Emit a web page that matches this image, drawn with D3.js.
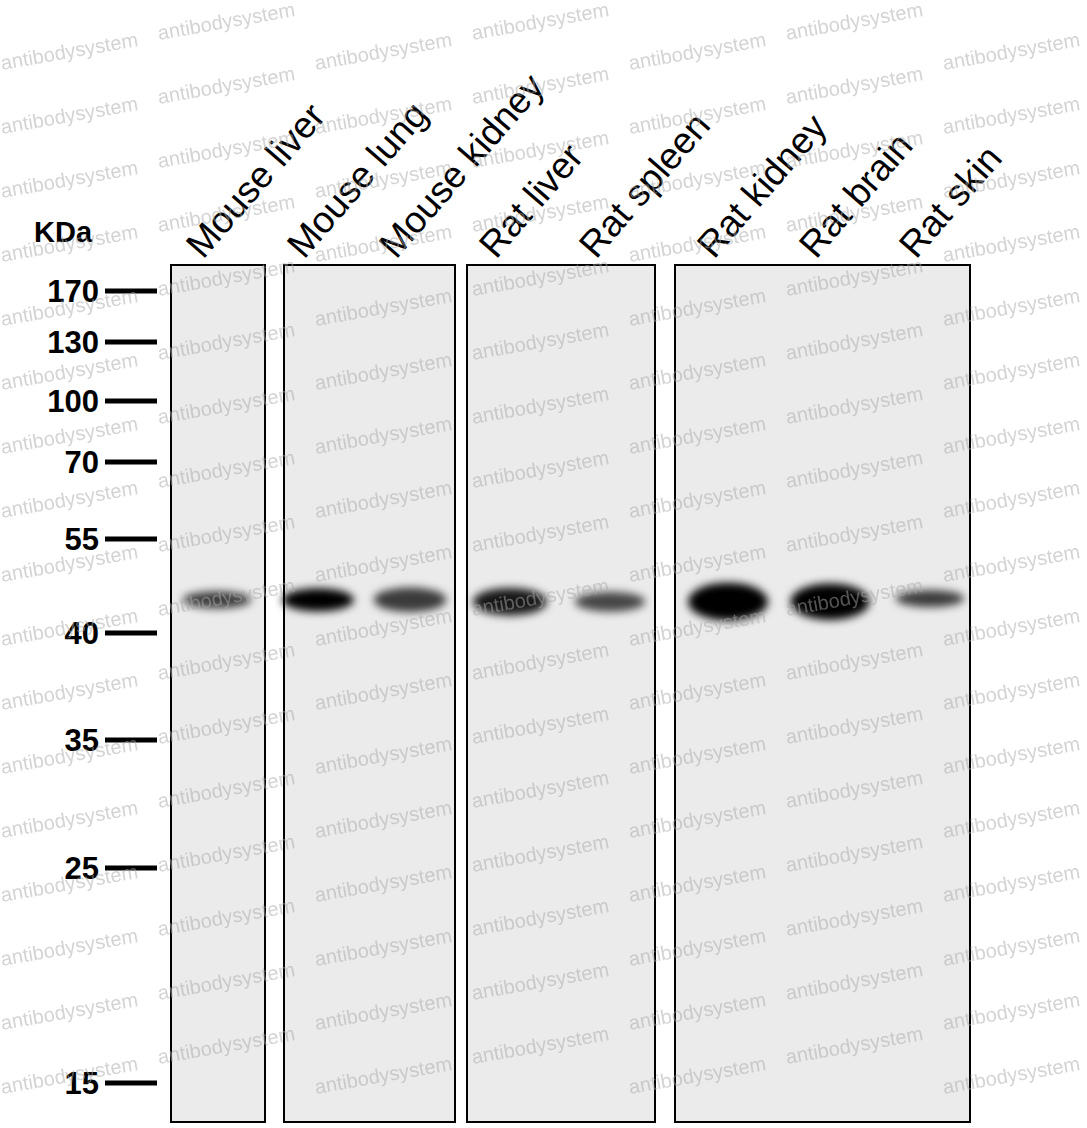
<!DOCTYPE html>
<html><head><meta charset="utf-8">
<script src="https://cdn.jsdelivr.net/npm/d3@7"></script>
<style>body{margin:0;background:#fff}</style>
</head><body><div id="chart"></div>
<script>
const markers = [170, 130, 100, 70, 55, 40, 35, 25, 15];
const markerPos = [291, 342, 401, 462, 539, 633, 740, 868, 1083];
const lanes = ["Mouse liver", "Mouse lung", "Mouse kidney", "Rat liver", "Rat spleen", "Rat kidney", "Rat brain", "Rat skin"];
const panelOf = [0, 1, 1, 2, 2, 3, 3, 3];
const bandKDa = [45.3, 45.3, 45.3, 45, 45, 45, 45, 45.5];
const bandIntensity = [0.75, 1.0, 0.75, 0.9, 0.7, 1.0, 1.0, 0.75];
const bandThickness = [0.3, 0.5, 0.55, 0.65, 0.4, 1.0, 0.95, 0.3];

const width = 1087, height = 1128;
const svg = d3.select("#chart").append("svg")
	.attr("width", width).attr("height", height)
	.attr("viewBox", [0, 0, width, height]);

const y = d3.scaleLinear().domain(markers).range(markerPos);
const laneX = [217, 318, 410, 510, 610, 728, 830, 930];
const panels = [[171, 265], [284, 455], [467, 655], [675, 970]];
const blotTop = 265, blotBottom = 1122;

const defs = svg.append("defs");
defs.append("filter").attr("id", "blur").attr("x", "-50%").attr("y", "-100%").attr("width", "200%").attr("height", "300%")
	.append("feGaussianBlur").attr("stdDeviation", 4);

// panels
svg.append("g").selectAll("rect").data(panels).join("rect")
	.attr("x", d => d[0]).attr("y", blotTop)
	.attr("width", d => d[1] - d[0]).attr("height", blotBottom - blotTop)
	.attr("fill", "#ebebeb").attr("stroke", "#000").attr("stroke-width", 2);

// bands
const bands = svg.append("g").attr("filter", "url(#blur)");
lanes.forEach((l, i) => {
	bands.append("ellipse")
		.attr("cx", laneX[i])
		.attr("cy", y(bandKDa[i]))
		.attr("rx", 32 + 8 * bandThickness[i])
		.attr("ry", 4 + 15 * bandThickness[i])
		.attr("fill", "#000")
		.attr("opacity", bandIntensity[i]);
});

// marker ticks
const m = svg.append("g");
markers.forEach(k => {
	m.append("line").attr("x1", 105).attr("x2", 157).attr("y1", y(k)).attr("y2", y(k))
		.attr("stroke", "#000").attr("stroke-width", 5);
	m.append("text").attr("x", 99).attr("y", y(k)).attr("dy", "0.36em")
		.attr("text-anchor", "end").attr("font-family", "Liberation Sans, Arial")
		.attr("font-weight", "bold").attr("font-size", 31).text(k);
});
svg.append("text").attr("x", 34).attr("y", 242).attr("font-family", "Liberation Sans, Arial")
	.attr("font-weight", "bold").attr("font-size", 29).text("KDa");

// lane labels
svg.append("g").selectAll("text").data(lanes).join("text")
	.attr("transform", (d, i) => `translate(${laneX[i] - 14},260) rotate(-49)`)
	.attr("font-family", "Liberation Sans, Arial").attr("font-size", 37).text(d => d);

// watermark
const wm = svg.append("g").attr("fill", "#a8a8a8").attr("opacity", 0.5)
	.attr("font-family", "Liberation Sans, Arial").attr("font-size", 20);
for (let r = 0; r < 18; r++) {
	for (let c = 0; c < 7; c++) {
		const wx = 2 + c * 157;
		const wy = 70 + r * 64 + (c % 2 ? -30 : 0);
		if (wy > 1124 || wx + 140 > width + 10) continue;
		wm.append("text").attr("transform", `translate(${wx},${wy}) rotate(-10)`).text("antibodysystem");
	}
}
</script></body></html>
